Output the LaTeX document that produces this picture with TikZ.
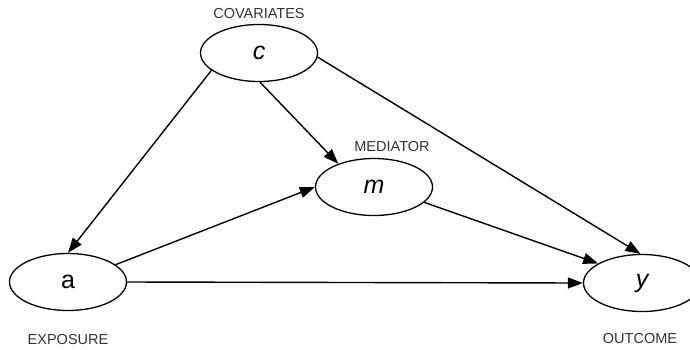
\documentclass[tikz,border=0pt]{standalone}
\usepackage{fontspec}
\setmainfont{Liberation Sans}
\usetikzlibrary{arrows.meta,shapes.geometric}
\definecolor{labelgray}{HTML}{333333}
\tikzset{
  var/.style={draw=black, line width=1.3pt, ellipse, fill=white, minimum width=117pt, minimum height=57pt, inner sep=0pt, font=\fontsize{25}{28}\selectfont},
  tag/.style={text=labelgray, font=\fontsize{14.5}{17}\selectfont, inner sep=0pt},
  link/.style={line width=1.4pt, -{Triangle[length=15pt,width=11pt]}, shorten >=0pt}
}
\begin{document}
\begin{tikzpicture}[x=1pt,y=-1pt]
\useasboundingbox (0,0) rectangle (690,349);
\begin{scope}
\clip (0,0) rectangle (690,349);
\node[var] (c) at (259,53) {\itshape c};
\node[var] (m) at (374,187) {\itshape m};
\node[var] (a) at (68,282) {a};
\node[var] (y) at (642,283) {\itshape y};
\end{scope}
\node[tag] (lc) at (259,14) {COVARIATES};
\node[tag] (lm) at (392,147) {MEDIATOR};
\node[tag] (la) at (68,339) {EXPOSURE};
\node[tag] (ly) at (640,338) {OUTCOME};
\draw[link] (c.200) -- (a.north);
\draw[link] (c.272) -- (m.147);
\draw[link] (c.356) -- (y.93);
\draw[link] (a.20) -- (m.west);
\draw[link] (a.east) -- (y.west);
\draw[link] (m.343) -- (y.156);
\end{tikzpicture}
\end{document}
